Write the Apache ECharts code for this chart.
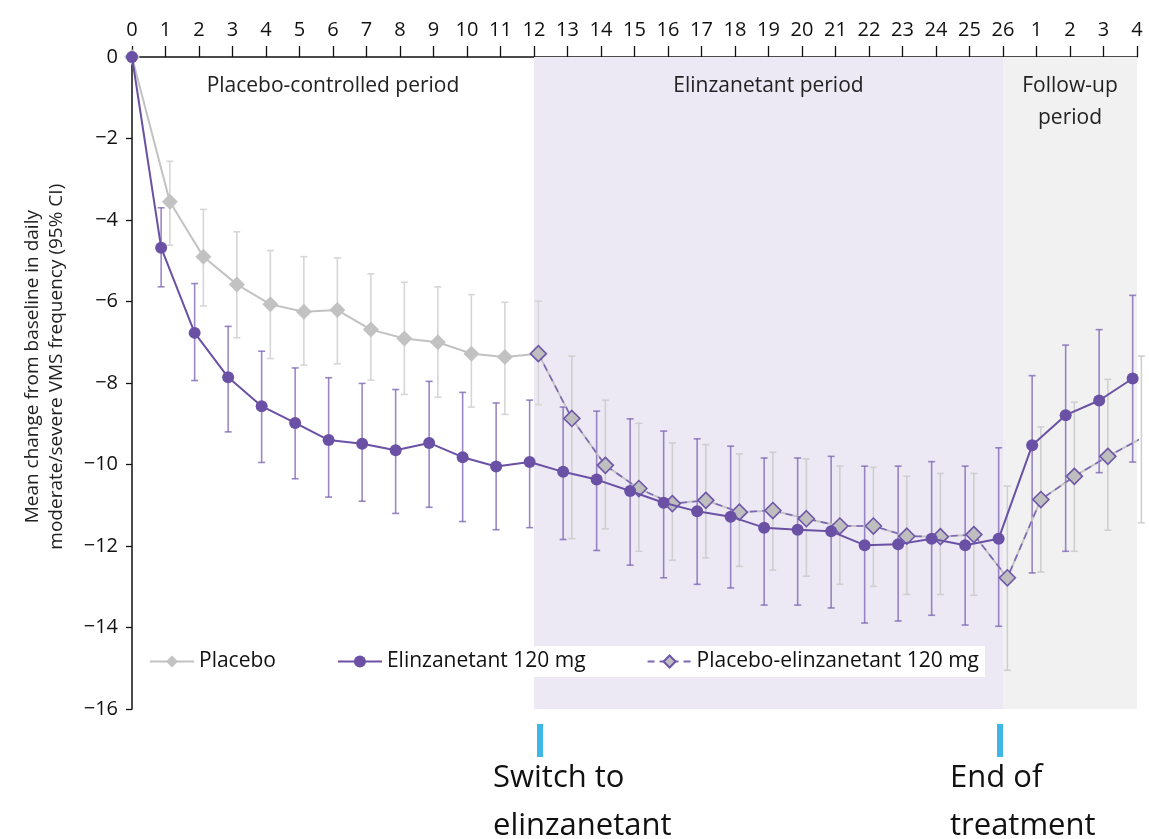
<!DOCTYPE html>
<html>
<head>
<meta charset="utf-8">
<script src="https://cdn.jsdelivr.net/npm/echarts@6/dist/echarts.min.js"></script>
<style>
html,body{margin:0;padding:0;background:#fff;}
#c{width:1149px;height:839px;}
</style>
</head>
<body>
<div id="c"></div>
<script>
// ---- data ----
var xTickLabels = ['0','1','2','3','4','5','6','7','8','9','10','11','12','13','14','15','16','17','18','19','20','21','22','23','24','25','26','1','2','3','4'];

var placeboWeeks = [0,1,2,3,4,5,6,7,8,9,10,11,12];
var placeboMean = [0,-3.55,-4.90,-5.58,-6.07,-6.25,-6.21,-6.69,-6.91,-7.00,-7.28,-7.36,-7.28];
var placeboHigh = [null,-2.56,-3.74,-4.29,-4.75,-4.90,-4.93,-5.32,-5.53,-5.64,-5.83,-6.02,-5.99];
var placeboLow  = [null,-4.62,-6.11,-6.89,-7.40,-7.56,-7.53,-7.93,-8.28,-8.35,-8.59,-8.77,-8.53];

var elinzWeeks = [0,1,2,3,4,5,6,7,8,9,10,11,12,13,14,15,16,17,18,19,20,21,22,23,24,25,26,27,28,29,30];
var elinzMean = [0,-4.68,-6.77,-7.86,-8.57,-8.98,-9.40,-9.49,-9.65,-9.47,-9.82,-10.05,-9.94,-10.18,-10.37,-10.65,-10.94,-11.15,-11.28,-11.55,-11.60,-11.64,-11.98,-11.96,-11.82,-11.98,-11.82,-9.53,-8.79,-8.43,-7.89];
var elinzHigh = [null,-3.70,-5.56,-6.61,-7.22,-7.63,-7.87,-8.01,-8.16,-7.96,-8.23,-8.49,-8.42,-8.59,-8.69,-8.88,-9.18,-9.37,-9.55,-9.84,-9.84,-9.80,-10.04,-10.04,-9.93,-10.04,-9.59,-7.82,-7.07,-6.69,-5.85];
var elinzLow  = [null,-5.64,-7.94,-9.20,-9.95,-10.35,-10.80,-10.90,-11.20,-11.05,-11.40,-11.60,-11.55,-11.84,-12.11,-12.47,-12.78,-12.94,-13.03,-13.45,-13.45,-13.52,-13.89,-13.84,-13.70,-13.94,-13.97,-12.66,-12.13,-10.20,-9.94];

var switchWeeks = [12,13,14,15,16,17,18,19,20,21,22,23,24,25,26,27,28,29,30];
var switchMean = [-7.28,-8.87,-10.02,-10.59,-10.96,-10.88,-11.17,-11.13,-11.33,-11.51,-11.51,-11.76,-11.77,-11.72,-12.78,-10.86,-10.29,-9.80,-9.36];
var switchHigh = [null,-7.34,-8.42,-8.99,-9.47,-9.51,-9.74,-9.70,-9.86,-10.04,-10.07,-10.29,-10.22,-10.22,-10.53,-9.08,-8.47,-7.91,-7.34];
var switchLow  = [null,-11.82,-11.58,-12.13,-12.35,-12.29,-12.50,-12.59,-12.74,-12.94,-12.99,-13.19,-13.19,-13.21,-15.05,-12.64,-12.13,-11.61,-11.43];

var periods = [
  {name:'Placebo-controlled period', from:0, to:12},
  {name:'Elinzanetant period', from:12, to:26},
  {name:'Follow-up\nperiod', from:26, to:30}
];

// ---- styles ----
var FONT = 'Open Sans';
var PURPLE = '#6A51A5';
var PURPLE_BAR = 'rgba(120,96,178,0.75)';
var GRAY = '#C2C2C2';
var GRAY_BAR = '#D6D6D6';
var periodColors = ['rgba(0,0,0,0)', '#ECE9F4', '#F1F1F1'];

function pts(weeks, vals, off) {
  return weeks.map(function (w, i) { return [w === 0 ? w : w + off, vals[i]]; });
}
function bars(weeks, lo, hi, off) {
  var out = [];
  weeks.forEach(function (w, i) {
    if (lo[i] != null && hi[i] != null) out.push([w + off, lo[i], hi[i]]);
  });
  return out;
}
function errRender(color) {
  return function (params, api) {
    var x = api.value(0);
    var a = api.coord([x, api.value(1)]);
    var b = api.coord([x, api.value(2)]);
    var cap = 3.5;
    var st = {stroke: color, lineWidth: 1.6};
    return {type: 'group', children: [
      {type: 'line', shape: {x1: a[0], y1: a[1], x2: b[0], y2: b[1]}, style: st},
      {type: 'line', shape: {x1: a[0]-cap, y1: a[1], x2: a[0]+cap, y2: a[1]}, style: st},
      {type: 'line', shape: {x1: b[0]-cap, y1: b[1], x2: b[0]+cap, y2: b[1]}, style: st}
    ]};
  };
}

var OFF = 0.13;

var chart = echarts.init(document.getElementById('c'));
var option = {
  animation: false,
  textStyle: {fontFamily: FONT},
  grid: {left: 132, right: 12, top: 57, bottom: 130, containLabel: false},
  xAxis: {
    type: 'value', position: 'top', min: 0, max: 30, interval: 1,
    axisLine: {show: true, lineStyle: {color: '#111', width: 1.5}},
    axisTick: {show: true, length: 11, lineStyle: {color: '#111', width: 1.3}},
    axisLabel: {margin: 17, fontSize: 20, color: '#111', fontFamily: FONT,
      formatter: function (v) { return xTickLabels[v]; }},
    splitLine: {show: false}
  },
  yAxis: {
    type: 'value', min: -16, max: 0, interval: 2,
    axisLine: {show: true, lineStyle: {color: '#111', width: 1.5}},
    axisTick: {show: true, length: 6, lineStyle: {color: '#111', width: 1.3}},
    axisLabel: {margin: 14, fontSize: 20, color: '#111', fontFamily: FONT,
      formatter: function (v) { return v < 0 ? '\u2212' + Math.abs(v) : String(v); }},
    splitLine: {show: false}
  },
  legend: {
    left: 143, top: 646, padding: [5, 6, 5, 6],
    backgroundColor: '#fff',
    itemWidth: 44, itemHeight: 15, itemGap: 61,
    textStyle: {fontSize: 21, color: '#111', fontFamily: FONT},
    data: ['Placebo', 'Elinzanetant 120 mg', 'Placebo-elinzanetant 120 mg']
  },
  series: [
    {
      type: 'line', name: 'periods', data: [], silent: true,
      markArea: {
        silent: true,
        data: periods.map(function (p, i) {
          return [{xAxis: p.from, itemStyle: {color: periodColors[i]},
                   label: {show: true, position: 'insideTop', distance: 13, formatter: p.name,
                     fontSize: 21, color: '#222', lineHeight: 32, fontFamily: FONT}},
                  {xAxis: p.to}];
        })
      }
    },
    {type: 'custom', name: 'pbErr', renderItem: errRender(GRAY_BAR), data: bars(placeboWeeks, placeboLow, placeboHigh, OFF), z: 2, silent: true},
    {type: 'custom', name: 'swErr', renderItem: errRender('#CFCFCF'), data: bars(switchWeeks.slice(1), switchLow.slice(1), switchHigh.slice(1), OFF), z: 2, silent: true},
    {type: 'custom', name: 'elErr', renderItem: errRender(PURPLE_BAR), data: bars(elinzWeeks, elinzLow, elinzHigh, -OFF), z: 2, silent: true},
    {
      type: 'line', name: 'Placebo', data: pts(placeboWeeks, placeboMean, OFF), z: 3,
      lineStyle: {color: GRAY, width: 2}, itemStyle: {color: GRAY},
      symbol: 'diamond', symbolSize: 16, showSymbol: true
    },
    {
      type: 'line', name: 'swBase', data: pts(switchWeeks, switchMean, OFF), z: 3,
      lineStyle: {color: '#C4C4C4', width: 2}, symbol: 'none', silent: true
    },
    {
      type: 'line', name: 'Placebo-elinzanetant 120 mg', data: pts(switchWeeks, switchMean, OFF), z: 4,
      lineStyle: {color: '#7D66B5', width: 1.6, type: [7, 5]},
      itemStyle: {color: '#BEBEBE', borderColor: '#6E56A8', borderWidth: 1.6},
      symbol: 'diamond', symbolSize: 16
    },
    {
      type: 'line', name: 'Elinzanetant 120 mg', data: pts(elinzWeeks, elinzMean, -OFF), z: 5,
      lineStyle: {color: PURPLE, width: 2}, itemStyle: {color: PURPLE},
      symbol: 'circle', symbolSize: 12
    }
  ]
};
chart.setOption(option);

// annotations placed from axis positions
var px12 = chart.convertToPixel({xAxisIndex: 0, yAxisIndex: 0}, [12, 0])[0];
var px26 = chart.convertToPixel({xAxisIndex: 0, yAxisIndex: 0}, [26, 0])[0];
var pyMid = chart.convertToPixel({xAxisIndex: 0, yAxisIndex: 0}, [0, -7.6])[1];
chart.setOption({
  graphic: [
    {type: 'text', x: 45, y: pyMid, rotation: Math.PI / 2,
      style: {text: 'Mean change from baseline in daily\nmoderate/severe VMS frequency (95% CI)',
        fontSize: 19, lineHeight: 24, fill: '#222', align: 'center', verticalAlign: 'middle', fontFamily: FONT}},
    {type: 'rect', shape: {x: px12 + 3, y: 724, width: 6, height: 33}, style: {fill: '#3FB7E6'}},
    {type: 'rect', shape: {x: px26 - 6, y: 724, width: 6, height: 33}, style: {fill: '#3FB7E6'}},
    {type: 'text', x: px12 - 41, y: 802, style: {text: 'Switch to\nelinzanetant', fontSize: 31, lineHeight: 48,
      fill: '#111', align: 'left', verticalAlign: 'middle', fontFamily: FONT}},
    {type: 'text', x: px26 - 53, y: 802, style: {text: 'End of\ntreatment', fontSize: 31, lineHeight: 48,
      fill: '#111', align: 'left', verticalAlign: 'middle', fontFamily: FONT}}
  ]
});
</script>
</body>
</html>
